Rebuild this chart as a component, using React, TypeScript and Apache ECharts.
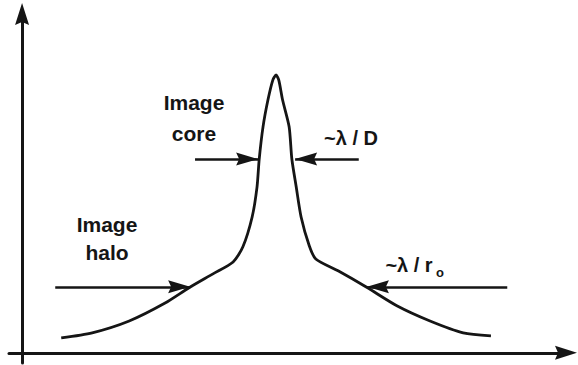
import React, { useEffect, useRef } from "react";
import * as echarts from "echarts";

// Point-spread profile: a narrow diffraction-limited core on top of a broad seeing halo.
const profileX = [
  7.2, 12.9, 19.7, 26.3, 30.7, 35.1, 38.8, 40.6, 42.3, 43.2, 43.6, 44.3, 45.2, 46.1, 46.7,
  47.2, 47.9, 49.1, 49.6, 50.4, 51.3, 52.8, 54.0, 58.1, 63.2, 68.9, 75.0, 81.1, 86.2,
];
const profileY = [
  4.4, 5.9, 9.4, 14.7, 19.2, 23.3, 26.8, 31.3, 40.1, 49.0, 57.2, 66.7, 74.6, 80.5, 82.0,
  80.5, 74.6, 66.7, 57.2, 49.0, 40.1, 31.6, 27.7, 24.2, 19.5, 13.9, 9.4, 5.9, 5.0,
];

// Width markers: [fromX, tipX, level]
const coreLeft = [31.8, 43.4, 57.2];
const coreRight = [61.9, 50.2, 57.2];
const haloLeft = [6.1, 30.9, 19.5];
const haloRight = [89.2, 63.4, 19.5];

const INK = "#151515";
const FONT = "Liberation Sans, Arial, Helvetica, sans-serif";
// Filled arrowhead with a shallow notch, pointing up (rotated along the line by ECharts).
const HEAD = "path://M0,0 L7,22 L0,19 L-7,22 Z";
const HEAD_LEN = 22;

function arrow(a: number[]) {
  return [{ coord: [a[0], a[2]] }, { coord: [a[1], a[2]] }];
}

export default function App() {
  const ref = useRef<HTMLDivElement>(null);

  useEffect(() => {
    if (!ref.current) return;
    const chart = echarts.init(ref.current, undefined, { renderer: "svg" });

    const axisLine = {
      onZero: true,
      symbol: ["none", HEAD],
      symbolSize: [15, 22],
      lineStyle: { color: INK, width: 3 },
    };

    const label = (text: string, x: number, y: number, size: number) => ({
      type: "text",
      x,
      y,
      style: {
        text,
        fill: INK,
        font: `bold ${size}px ${FONT}`,
        align: "center",
        verticalAlign: "middle",
        textAlign: "center",
        textVerticalAlign: "middle",
      },
    });

    chart.setOption({
      animation: false,
      backgroundColor: "#ffffff",
      grid: { left: 9, right: 12, top: 14, bottom: 2, containLabel: false },
      xAxis: {
        type: "value",
        min: -2.4,
        max: 100,
        axisLine,
        axisTick: { show: false },
        axisLabel: { show: false },
        splitLine: { show: false },
      },
      yAxis: {
        type: "value",
        min: -3,
        max: 100,
        axisLine,
        axisTick: { show: false },
        axisLabel: { show: false },
        splitLine: { show: false },
      },
      series: [
        {
          type: "line",
          data: profileX.map((x, i) => [x, profileY[i]]),
          showSymbol: false,
          smooth: 0.25,
          lineStyle: { color: INK, width: 2.8 },
          silent: true,
          markLine: {
            silent: true,
            symbol: ["none", HEAD],
            symbolSize: [13, HEAD_LEN],
            // put the arrow's tip, not its centre, on the end coordinate
            symbolOffset: [
              [0, 0],
              [0, HEAD_LEN / 2],
            ],
            label: { show: false },
            lineStyle: { color: INK, width: 2.5, type: "solid" },
            data: [arrow(coreLeft), arrow(coreRight), arrow(haloLeft), arrow(haloRight)],
          },
        },
      ],
      graphic: [
        label("Image", 194, 102, 21),
        label("core", 194, 133, 21),
        label("~\u03bb / D", 351, 138, 20),
        label("Image", 107, 224, 21),
        label("halo", 107, 252, 21),
        label("~\u03bb / r", 409, 265, 20),
        label("o", 440, 272, 13),
      ],
    });

    return () => chart.dispose();
  }, []);

  return <div ref={ref} style={{ width: 578, height: 365, position: "absolute", left: 0, top: 0 }} />;
}
